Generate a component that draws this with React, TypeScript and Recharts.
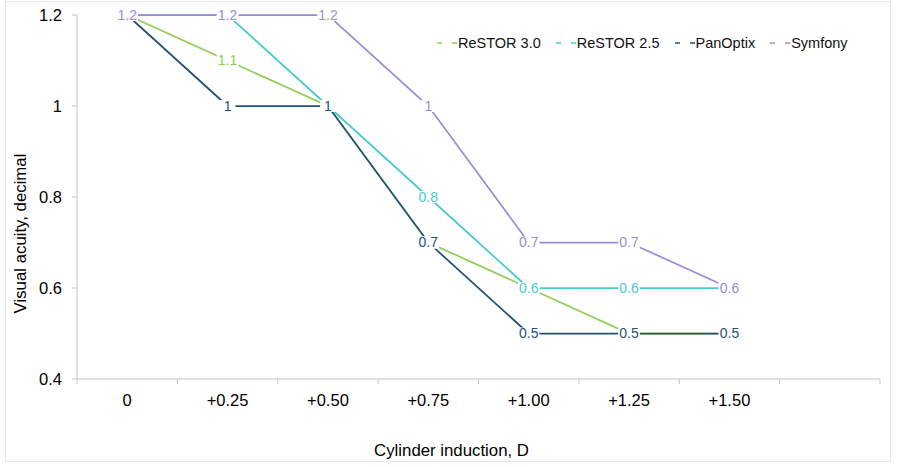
import React from 'react';
import { LineChart, Line, XAxis, YAxis, Legend, LabelList } from 'recharts';

const categories = ['0', '+0.25', '+0.50', '+0.75', '+1.00', '+1.25', '+1.50', ''];
const restor30 = [1.2, 1.1, 1.0, 0.7, 0.6, 0.5, 0.5, null];
const restor25 = [1.2, 1.2, 1.0, 0.8, 0.6, 0.6, 0.6, null];
const panOptix = [1.2, 1.0, 1.0, 0.7, 0.5, 0.5, 0.5, null];
const symfony = [1.2, 1.2, 1.2, 1.0, 0.7, 0.7, 0.6, null];
const yTicks = [0.4, 0.6, 0.8, 1, 1.2];

const seriesDefs = [
  { key: 'restor30', name: 'ReSTOR 3.0', color: '#8fcf55', values: restor30 },
  { key: 'restor25', name: 'ReSTOR 2.5', color: '#48cbcd', values: restor25 },
  { key: 'panOptix', name: 'PanOptix', color: '#245079', values: panOptix },
  { key: 'symfony', name: 'Symfony', color: '#9c8bd9', values: symfony },
];

const data = categories.map((c, i) => {
  const row: any = { cat: c };
  seriesDefs.forEach((s) => {
    row[s.key] = s.values[i];
  });
  return row;
});

const W = 903;
const H = 467;
const M = { top: 15, right: 23, left: 0, bottom: 0 };
const Y_W = 77;
const X_H = 88;
const PLOT_LEFT = M.left + Y_W;
const PLOT_RIGHT = W - M.right;
const PLOT_BOTTOM = H - M.bottom - X_H;
const BAND = (PLOT_RIGHT - PLOT_LEFT) / categories.length;
const FONT = '"Liberation Sans", Arial, sans-serif';
const AXIS_COLOR = '#c4c4c4';
const LABEL_FS = 14;
const TICK_FS = 16.5;
const TITLE_FS = 16.8;

const XTick = (props: any) => {
  const { x, payload, index } = props;
  const isLast = index === categories.length - 1;
  return (
    <g>
      <line x1={x - BAND / 2} x2={x - BAND / 2} y1={PLOT_BOTTOM} y2={PLOT_BOTTOM + 5} stroke={AXIS_COLOR} />
      {isLast && (
        <line x1={x + BAND / 2} x2={x + BAND / 2} y1={PLOT_BOTTOM} y2={PLOT_BOTTOM + 5} stroke={AXIS_COLOR} />
      )}
      <text x={x} y={PLOT_BOTTOM + 21} dy="0.35em" textAnchor="middle" fill="#000" fontSize={TICK_FS} fontFamily={FONT}>
        {payload.value}
      </text>
    </g>
  );
};

const textWidth = (s: string) =>
  s.split('').reduce((acc, ch) => acc + (ch === '.' ? 0.278 : 0.556), 0) * LABEL_FS;

const makeLabel = (color: string) => (p: any) => {
  const { x, y, value } = p;
  if (value === null || value === undefined) return null;
  const str = String(value);
  const w = textWidth(str) + (str.length === 1 ? 8 : 2);
  return (
    <g>
      <rect x={x - w / 2} y={y - 6} width={w} height={12} fill="#fff" />
      <text x={x} y={y} dy="0.35em" textAnchor="middle" fill={color} fontSize={LABEL_FS} fontFamily={FONT}>
        {str}
      </text>
    </g>
  );
};

const renderLegend = () => (
  <div style={{ display: 'flex', flexDirection: 'row', fontFamily: FONT, fontSize: 14.5, color: '#111', whiteSpace: 'nowrap' }}>
    {seriesDefs.map((s) => (
      <div key={s.key} style={{ display: 'flex', alignItems: 'center', marginRight: 15 }}>
        <svg width={20} height={10} style={{ marginRight: 1 }}>
          <line x1={0} x2={20} y1={5} y2={5} stroke={s.color} strokeWidth={1.5} strokeDasharray="5 10" />
        </svg>
        <span>{s.name}</span>
      </div>
    ))}
  </div>
);

export default function App() {
  return (
    <div style={{ position: 'absolute', left: 0, top: 0, width: W, height: H, background: '#fff', fontFamily: FONT }}>
      <div
        style={{
          position: 'absolute',
          left: 5,
          top: 1,
          width: 886,
          height: 461,
          border: '1px solid #e6e6e6',
          boxSizing: 'border-box',
        }}
      />
      <div style={{ position: 'absolute', left: 0, top: 0 }}>
        <LineChart width={W} height={H} data={data} margin={M}>
          <XAxis
            dataKey="cat"
            height={X_H}
            interval={0}
            tickLine={false}
            stroke={AXIS_COLOR}
            padding={{ left: BAND / 2, right: BAND / 2 }}
            tick={<XTick />}
            label={{
              content: () => (
                <text x={W / 2} y={PLOT_BOTTOM + 71} dy="0.35em" textAnchor="middle" fill="#000" fontSize={TITLE_FS} fontFamily={FONT}>
                  Cylinder induction, D
                </text>
              ),
            }}
          />
          <YAxis
            width={Y_W}
            domain={[0.4, 1.2]}
            ticks={yTicks}
            interval={0}
            stroke={AXIS_COLOR}
            tickSize={5}
            tickMargin={10}
            tick={{ fill: '#000', fontSize: TICK_FS, fontFamily: FONT }}
            label={{
              content: () => {
                const cx = 20;
                const cy = H / 2;
                return (
                  <text x={cx} y={cy} dy="0.35em" textAnchor="middle" fill="#000" fontSize={TITLE_FS} fontFamily={FONT} transform={`rotate(-90 ${cx} ${cy})`}>
                    Visual acuity, decimal
                  </text>
                );
              },
            }}
          />
          <Legend
            content={renderLegend}
            layout="horizontal"
            verticalAlign="middle"
            align="center"
            wrapperStyle={{ position: 'absolute', top: 35, left: 437, width: 460 }}
          />
          {seriesDefs.map((s) => (
            <Line
              key={s.key}
              type="linear"
              dataKey={s.key}
              name={s.name}
              stroke={s.color}
              strokeWidth={1.75}
              dot={false}
              activeDot={false}
              isAnimationActive={false}
            >
              <LabelList dataKey={s.key} content={makeLabel(s.color)} />
            </Line>
          ))}
        </LineChart>
      </div>
    </div>
  );
}
